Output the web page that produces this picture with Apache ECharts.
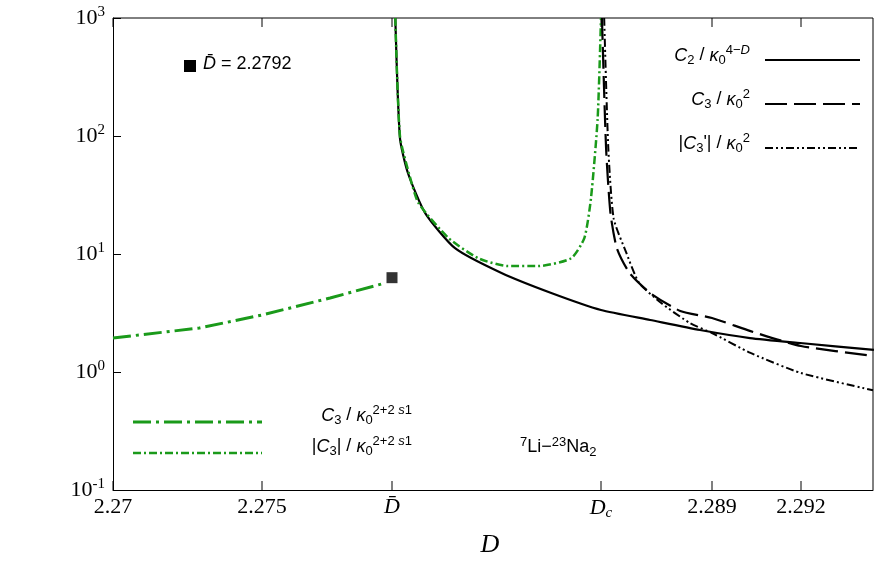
<!DOCTYPE html><html><head><meta charset="utf-8">
<script src="https://cdn.jsdelivr.net/npm/echarts@6/dist/echarts.min.js"></script>
<style>html,body{margin:0;background:#fff}#c{width:880px;height:581px}</style></head><body><div id="c"></div>
<script>
const Dbar=2.2792, Dc=2.2855;
const xTicks=[[2.27,'2.27'],[2.275,'2.275'],[Dbar,'D̄'],[Dc,'Dc'],[2.289,'2.289'],[2.292,'2.292']];
const c2=[[2.2793,1000],[2.27944,96],[2.27968,48.6],[2.2802,22.2],[2.2811,11.2],[2.2825,6.9],[2.2840,4.67],[2.2855,3.35],[2.28705,2.76],[2.28862,2.27],[2.29028,1.94],[2.29197,1.76],[2.29443,1.54]];
const c3abs=[[2.2793,1000],[2.27944,100],[2.27974,45],[2.2800,27],[2.2809,13.7],[2.2818,9.2],[2.2827,7.9],[2.2836,7.9],[2.2846,9.2],[2.2850,13.7],[2.2852,30],[2.2854,142],[2.2855,1000]];
const c3left=[[2.27,1.94],[2.2729,2.36],[2.275,3.04],[2.2772,4.24],[2.2790,5.7]];
const c3k=[[2.28553,1000],[2.28566,79],[2.2858,22],[2.2860,11.2],[2.2864,6.9],[2.28705,4.67],[2.2880,3.29],[2.289,2.87],[2.2903,2.22],[2.2920,1.66],[2.2944,1.37]];
const c3p=[[2.2856,1000],[2.28573,79],[2.2859,20],[2.2863,10.2],[2.2867,5.7],[2.2874,3.84],[2.2883,2.6],[2.289,2.14],[2.2903,1.45],[2.2920,0.98],[2.2944,0.70]];
const marker=[[Dbar,6.3]];
const knots=[[2.27,0],[2.275,149],[Dbar,279],[Dc,488],[2.289,599],[2.292,688],[2.2944,760]];
function u(D){for(let i=1;i<knots.length;i++){const a=knots[i-1],b=knots[i];if(D<=b[0]||i==knots.length-1)return a[1]+(D-a[0])/(b[0]-a[0])*(b[1]-a[1]);}}
const m=a=>a.map(p=>[u(p[0]),p[1]]);
const F='Liberation Serif', S='Liberation Sans';
const ch=echarts.init(document.getElementById('c'));
const sup={fontFamily:F,fontSize:15,verticalAlign:'top',padding:[0,0,12,0],color:'#000'};
ch.setOption({animation:false,
grid:{left:113,right:7,top:18,bottom:91},
xAxis:{type:'value',min:0,max:760,axisLabel:{show:false},axisTick:{show:false},splitLine:{show:false},axisLine:{lineStyle:{color:'#000'}}},
yAxis:{type:'log',min:0.1,max:1000,logBase:10,splitLine:{show:false},axisLine:{lineStyle:{color:'#000'}},
 axisTick:{inside:true,length:8,lineStyle:{color:'#000'}},
 axisLabel:{formatter:v=>'{b|10}{s|'+Math.round(Math.log10(v))+'}',rich:{b:{fontFamily:F,fontSize:22,color:'#000'},s:sup}}},
series:[
{type:'line',data:m(c2),symbol:'none',smooth:0.2,lineStyle:{color:'#000',width:2.2}},
{type:'line',data:m(c3abs),symbol:'none',smooth:0.2,lineStyle:{color:'#1a9a1a',width:2.5,type:[8,3,2,3]}},
{type:'line',data:m(c3left),symbol:'none',lineStyle:{color:'#1a9a1a',width:3,type:[18,5,3,5]}},
{type:'line',data:m(c3k),symbol:'none',smooth:0.2,lineStyle:{color:'#000',width:2.2,type:[22,7]}},
{type:'line',data:m(c3p),symbol:'none',smooth:0.2,lineStyle:{color:'#000',width:2,type:[8,3,2,3,2,3]}},
{type:'scatter',data:m(marker),symbol:'rect',symbolSize:11,itemStyle:{color:'#000'}}
]});
const g=[];
const gt=(x,y,t,rich,align)=>g.push({type:'text',x,y,style:{text:t,rich,align:align||'left'}});
const it={fontFamily:F,fontStyle:'italic',fontSize:22,color:'#000'};
const no={fontFamily:F,fontSize:22,color:'#000'};
const R={i:it,n:no,b:{fontFamily:F,fontStyle:'italic',fontSize:15,verticalAlign:'bottom',color:'#000',padding:[10,0,0,0]}};
// legend rich (sans)
const L={i:{fontFamily:S,fontStyle:'italic',fontSize:18,color:'#000'},n:{fontFamily:S,fontSize:18,color:'#000'},
 s:{fontFamily:S,fontSize:13,verticalAlign:'top',padding:[0,0,10,0],color:'#000'},
 si:{fontFamily:S,fontStyle:'italic',fontSize:13,verticalAlign:'top',padding:[0,0,10,0],color:'#000'},
 b:{fontFamily:S,fontSize:13,verticalAlign:'bottom',padding:[8,0,0,0],color:'#000'}};
xTicks.forEach(([D,l])=>{const p=ch.convertToPixel({gridIndex:0},[u(D),0.1]);
 g.push({type:'line',shape:{x1:p[0],y1:490,x2:p[0],y2:481},style:{stroke:'#000',lineWidth:1}});
 g.push({type:'line',shape:{x1:p[0],y1:18,x2:p[0],y2:27},style:{stroke:'#000',lineWidth:1}});
 let t=l=='Dc'?'{i|D}{b|c}':l=='D̄'?'{i|D̄}':'{n|'+l+'}';
 g.push({type:'text',x:p[0],y:496,style:{text:t,rich:R,align:'center'}});});
g.push({type:'line',shape:{x1:873,y1:18,x2:873,y2:490},style:{stroke:'#000'}});
g.push({type:'line',shape:{x1:113,y1:18,x2:873,y2:18},style:{stroke:'#000'}});
gt(490,532,'{i|D}',{i:Object.assign({},it,{fontSize:26})},'center');
g.push({type:'rect',shape:{x:184,y:60,width:12,height:12},style:{fill:'#000'}});
gt(203,55,'{i|D̄}{n| = 2.2792}',L);
gt(750,44,'{i|C}{b|2}{n| / }{i|κ}{b|0}{s|4−}{si|D}',L,'right');
gt(750,88,'{i|C}{b|3}{n| / }{i|κ}{b|0}{s|2}',L,'right');
gt(750,132,'{n||}{i|C}{b|3}{n|\'| / }{i|κ}{b|0}{s|2}',L,'right');
g.push({type:'line',shape:{x1:765,y1:60,x2:860,y2:60},style:{stroke:'#000',lineWidth:2.2}});
g.push({type:'line',shape:{x1:765,y1:104,x2:860,y2:104},style:{stroke:'#000',lineWidth:2.2,lineDash:[22,7]}});
g.push({type:'line',shape:{x1:765,y1:148,x2:860,y2:148},style:{stroke:'#000',lineWidth:2,lineDash:[8,3,2,3,2,3]}});
gt(412,404,'{i|C}{b|3}{n| / }{i|κ}{b|0}{s|2+2 }{si|s}{s|1}',L,'right');
gt(412,435,'{n||}{i|C}{b|3}{n|| / }{i|κ}{b|0}{s|2+2 }{si|s}{s|1}',L,'right');
g.push({type:'line',shape:{x1:133,y1:422,x2:262,y2:422},style:{stroke:'#1a9a1a',lineWidth:3,lineDash:[18,5,3,5]}});
g.push({type:'line',shape:{x1:133,y1:453,x2:262,y2:453},style:{stroke:'#1a9a1a',lineWidth:2.5,lineDash:[8,3,2,3]}});
gt(520,436,'{s|7}{n|Li−}{s|23}{n|Na}{b|2}',L);
ch.setOption({graphic:g});
</script></body></html>
